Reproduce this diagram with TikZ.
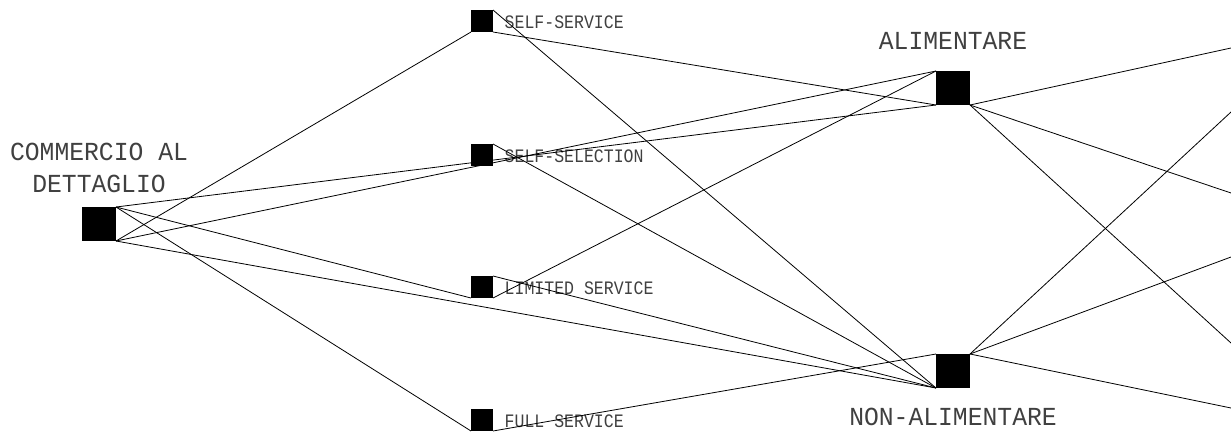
\documentclass[tikz,border=0pt]{standalone}
\usepackage{fontspec}
\newfontfamily\bigfont[FakeStretch=0.95]{Liberation Mono}
\newfontfamily\smallfont[FakeStretch=0.87]{Liberation Mono}
\usetikzlibrary{positioning}

\begin{document}
\begin{tikzpicture}[x=1pt, y=-1pt,
    bigbox/.style={fill=black, inner sep=0pt, outer sep=0pt, minimum size=34pt},
    smallbox/.style={fill=black, inner sep=0pt, outer sep=0pt, minimum size=22pt},
    biglabel/.style={font=\bigfont\fontsize{26}{32}\selectfont, text=black!75, inner sep=0pt, text depth=0pt, align=center},
    smalllabel/.style={font=\smallfont\fontsize{19}{22}\selectfont, text=black!75, inner sep=0pt}]
  \useasboundingbox (0,0) rectangle (1231,434);
  % boxes
  \node[bigbox]   (comm)   at (99,224) {};
  \node[smallbox] (ss)     at (482,21)  {};
  \node[smallbox] (sel)    at (482,155) {};
  \node[smallbox] (lim)    at (482,287) {};
  \node[smallbox] (full)   at (482,420) {};
  \node[bigbox]   (ali)    at (953,88)  {};
  \node[bigbox]   (nonali) at (953,371) {};
  % labels
  \node[biglabel, above=14pt of comm] (commlab) {COMMERCIO AL\\DETTAGLIO};
  \node[biglabel, above=21pt of ali] (alilab) {ALIMENTARE};
  \node[biglabel, below=20pt of nonali] (nonalilab) {NON-ALIMENTARE};
  \node[smalllabel, above right=4pt and 11.5pt of ss.south east, anchor=base west] (sslab) {SELF-SERVICE};
  \node[smalllabel, above right=4pt and 11.5pt of sel.south east, anchor=base west] (sellab) {SELF-SELECTION};
  \node[smalllabel, above right=4pt and 11.5pt of lim.south east, anchor=base west] (limlab) {LIMITED SERVICE};
  \node[smalllabel, above right=4pt and 11.5pt of full.south east, anchor=base west] (fulllab) {FULL SERVICE};
  % loose ends at the right border
  \coordinate (r1) at (1231,48);
  \coordinate (r2) at (1231,112);
  \coordinate (r3) at (1231,193);
  \coordinate (r4) at (1231,257);
  \coordinate (r5) at (1231,343);
  \coordinate (r6) at (1231,408);
  \path[line width=0.8pt]
    (comm.south east) edge (ss.south west) edge (ali.north west) edge (nonali.south west)
    (comm.north east) edge (ali.south west) edge (lim.south west) edge (full.south west)
    (ss.north east) edge (nonali.south west)
    (ss.south east) edge (ali.south west)
    (sel.north east) edge (nonali.south west)
    (lim.north east) edge (nonali.south west)
    (lim.south east) edge (ali.north west)
    (full.south east) edge (nonali.north west)
    (ali.south east) edge (r1) edge (r3) edge (r5)
    (nonali.north east) edge (r2) edge (r4) edge (r6);
\end{tikzpicture}
\end{document}
